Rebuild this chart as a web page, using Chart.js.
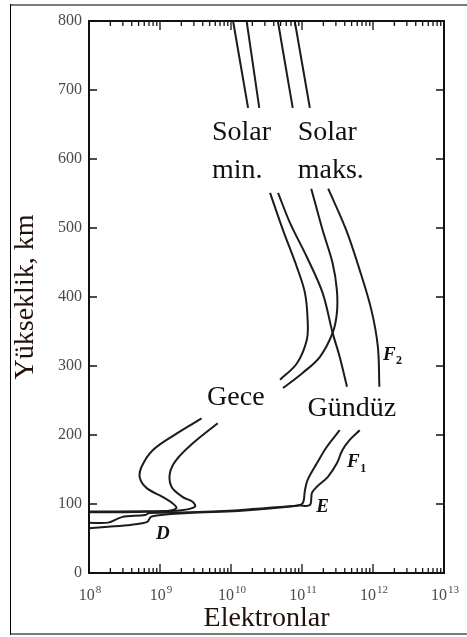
<!DOCTYPE html>
<html>
<head>
<meta charset="utf-8">
<script src="https://cdn.jsdelivr.net/npm/chart.js@4.4.1/dist/chart.umd.min.js"></script>
<style>
  html, body { margin: 0; padding: 0; background: #fff; }
  #wrap { width: 467px; height: 637px; }
</style>
</head>
<body>
<div id="wrap"><canvas id="ionoChart" width="467" height="637"></canvas></div>
<script>
// electron density (per m3) and altitude (km); null = break in the line where a label sits
var nightMinN = [1.07e10, 1.74e10, null, 3.55e10, 5.4e10, 8.5e10, 1.1e11, 1.2e11, 1.17e11, 8.5e10, 4.9e10, null,
    3.85e9, 1.71e9, 7.9e8, 5.5e8, 5.2e8, 6.5e8, 1.1e9, 1.5e9, 1.7e9, 1.26e9, 5e8, 1e8];
var nightMinH = [800, 674, null, 551, 497, 443, 406, 367, 338, 304, 280, null,
    224, 202, 178, 154, 138, 123, 110, 101, 94, 90, 88.5, 88];

var nightMaxN = [4.57e10, 7.4e10, null, 1.35e11, 1.95e11, 2.7e11, 3.1e11, 3.1e11, 2.7e11, 1.78e11, 1.02e11, 5.4e10, null,
    6.5e9, 2.9e9, 1.7e9, 1.38e9, 1.45e9, 2.1e9, 2.9e9, 3.1e9, 2e9, 6.3e8, 1e8];
var nightMaxH = [800, 674, null, 557, 497, 449, 410, 377, 348, 313, 290, 268, null,
    217, 188, 164, 145, 125, 110, 103, 96, 91, 89.5, 89];

var dayMinN = [1.66e10, 2.5e10, null, 4.6e10, 6.8e10, 1.17e11, 1.95e11, 2.7e11, 3.4e11, 4.3e11, null,
    3.4e11, 2.24e11, 1.62e11, 1.2e11, 1.1e11, 1.02e11, 7.9e10, 1.26e10, 2.5e9, 7.6e8, 6.6e8, 4e8, 1.86e8, 1e8];
var dayMinH = [800, 674, null, 551, 507, 458, 406, 348, 313, 270, null,
    207, 183, 159, 135, 120, 101, 97, 90, 87, 82, 74, 70, 67, 65];

var dayMaxN = [7.9e10, 1.29e11, null, 2.34e11, 4.2e11, 6.5e11, 9.5e11, 1.17e12, 1.23e12, null,
    6.5e11, 4.7e11, 3.7e11, 3.1e11, 2.3e11, 1.62e11, 1.38e11, 1.29e11, 8.9e10, 1.26e10, 2.5e9, 7.1e8, 6.2e8, 2.9e8, 1.86e8, 1e8];
var dayMaxH = [800, 674, null, 557, 497, 439, 381, 328, 270, null,
    207, 193, 178, 159, 139, 125, 116, 98.5, 98, 91, 88, 87, 84, 81, 73, 73];

var xTicks = [1e8, 1e9, 1e10, 1e11, 1e12, 1e13];
var xTickBase = '10';
var xTickExp = ['8', '9', '10', '11', '12', '13'];

var serif = "'Liberation Serif', 'Times New Roman', serif";

function pairs(n, h) {
    return n.map(function (v, i) { return { x: v, y: h[i] }; });
}

function curve(label, n, h) {
    return {
        label: label,
        data: pairs(n, h),
        borderColor: '#1c1c1c',
        borderWidth: 2,
        pointRadius: 0,
        tension: 0.35,
        fill: false
    };
}

// outer frame, plot box, inward ticks, 10^n tick labels and the text labels inside the plot
var decor = {
    id: 'decor',
    beforeDraw: function (chart) {
        var c = chart.ctx;
        c.save();
        c.fillStyle = '#fff';
        c.fillRect(0, 0, chart.width, chart.height);
        c.strokeStyle = '#7a7a7a';
        c.lineWidth = 2;
        c.beginPath();
        c.moveTo(10, 5); c.lineTo(chart.width, 5);
        c.moveTo(10, 634); c.lineTo(chart.width, 634);
        c.stroke();
        c.strokeStyle = '#000';
        c.lineWidth = 1;
        c.beginPath();
        c.moveTo(10.5, 4); c.lineTo(10.5, 635);
        c.stroke();
        c.restore();
    },
    afterDatasetsDraw: function (chart) {
        var c = chart.ctx, a = chart.chartArea, x = chart.scales.x, y = chart.scales.y;
        c.save();
        c.strokeStyle = '#111';
        c.lineWidth = 2;
        c.strokeRect(a.left, a.top, a.right - a.left, a.bottom - a.top);

        c.lineWidth = 1.3;
        c.beginPath();
        xTicks.forEach(function (v, i) {
            var px = x.getPixelForValue(v);
            c.moveTo(px, a.bottom); c.lineTo(px, a.bottom - 9);
            c.moveTo(px, a.top); c.lineTo(px, a.top + 9);
            if (i < xTicks.length - 1) {
                for (var k = 2; k < 10; k++) {
                    var m = x.getPixelForValue(v * k);
                    c.moveTo(m, a.bottom); c.lineTo(m, a.bottom - 5);
                    c.moveTo(m, a.top); c.lineTo(m, a.top + 5);
                }
            }
        });
        y.ticks.forEach(function (t) {
            var py = y.getPixelForValue(t.value);
            c.moveTo(a.left, py); c.lineTo(a.left + 8, py);
            c.moveTo(a.right, py); c.lineTo(a.right - 8, py);
        });
        c.stroke();

        // x tick labels as 10 with a raised exponent
        c.fillStyle = '#4a4a4a';
        c.textBaseline = 'alphabetic';
        c.textAlign = 'left';
        xTicks.forEach(function (v, i) {
            var px = x.getPixelForValue(v);
            c.font = '16px ' + serif;
            var wb = c.measureText(xTickBase).width;
            c.font = '11px ' + serif;
            var we = c.measureText(xTickExp[i]).width;
            var x0 = px - (wb + we + 1) / 2 + 1;
            c.font = '16px ' + serif;
            c.fillText(xTickBase, x0, a.bottom + 27);
            c.font = '11px ' + serif;
            c.fillText(xTickExp[i], x0 + wb + 1, a.bottom + 20);
        });

        function put(text, vx, vy, font, align) {
            c.font = font;
            c.textAlign = align || 'left';
            c.textBaseline = 'alphabetic';
            c.fillText(text, x.getPixelForValue(vx), y.getPixelForValue(vy));
        }
        c.fillStyle = '#111';
        var big = '28px ' + serif;
        put('Solar', 5.4e9, 627, big);
        put('min.', 5.4e9, 572, big);
        put('Solar', 8.7e10, 627, big);
        put('maks.', 8.7e10, 572, big);
        put('Gece', 4.6e9, 243, big);
        put('Gündüz', 1.2e11, 227, big);

        var it = 'italic bold 19px ' + serif;
        var sub = 'bold 12px ' + serif;
        put('D', 1.1e9, 50, it, 'center');
        put('E', 1.95e11, 88, it, 'center');
        put('F', 5.3e11, 153, it, 'center');
        put('1', 6.6e11, 147, sub, 'left');
        put('F', 1.7e12, 309, it, 'center');
        put('2', 2.1e12, 303, sub, 'left');
        c.restore();
    }
};

var ctx = document.getElementById('ionoChart').getContext('2d');
var ionoChart = new Chart(ctx, {
    type: 'line',
    data: {
        datasets: [
            curve('Solar min. gece', nightMinN, nightMinH),
            curve('Solar min. gündüz', dayMinN, dayMinH),
            curve('Solar maks. gece', nightMaxN, nightMaxH),
            curve('Solar maks. gündüz', dayMaxN, dayMaxH)
        ]
    },
    options: {
        responsive: false,
        animation: false,
        layout: {
            padding: { top: 21, right: 23, left: 0, bottom: 0 }
        },
        plugins: {
            legend: { display: false },
            tooltip: { enabled: false }
        },
        scales: {
            x: {
                type: 'logarithmic',
                min: 1e8,
                max: 1e13,
                grid: { display: false, drawTicks: false },
                border: { display: false },
                afterBuildTicks: function (scale) {
                    scale.ticks = xTicks.map(function (v) { return { value: v }; });
                },
                afterFit: function (scale) { scale.height = 64; },
                ticks: {
                    autoSkip: false,
                    maxRotation: 0,
                    padding: 11,
                    font: { family: serif, size: 16 },
                    callback: function () { return ''; }
                },
                title: {
                    display: true,
                    text: 'Elektronlar',
                    color: '#24100a',
                    font: { family: serif, size: 28 },
                    padding: { top: 0, bottom: 2 }
                }
            },
            y: {
                min: 0,
                max: 800,
                grid: { display: false, drawTicks: false },
                border: { display: false },
                afterFit: function (scale) { scale.width = 89; },
                ticks: {
                    stepSize: 100,
                    padding: 7,
                    color: '#4a4a4a',
                    font: { family: serif, size: 16 }
                },
                title: {
                    display: true,
                    text: 'Yükseklik, km',
                    color: '#24100a',
                    font: { family: serif, size: 28 },
                    padding: { top: 9, bottom: 0 }
                }
            }
        }
    },
    plugins: [decor]
});
</script>
</body>
</html>
